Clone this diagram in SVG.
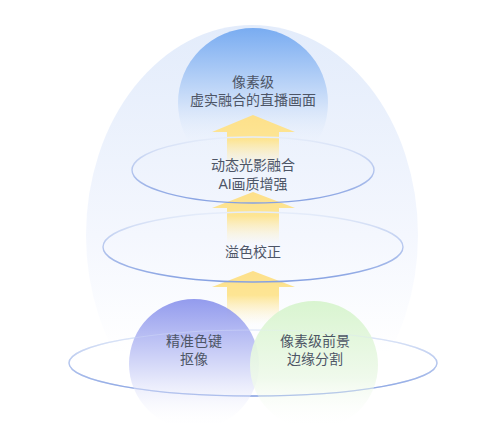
<svg xmlns="http://www.w3.org/2000/svg" width="500" height="424" viewBox="0 0 500 424">
<defs>
<linearGradient id="dome" x1="0" y1="0" x2="0" y2="1">
<stop offset="0" stop-color="#e3ecfb"/>
<stop offset="0.5" stop-color="#f4f7fe"/>
<stop offset="0.78" stop-color="#ffffff"/>
</linearGradient>
<linearGradient id="topc" x1="0" y1="0" x2="0" y2="1">
<stop offset="0" stop-color="#79acf1"/>
<stop offset="0.5" stop-color="#cfe0f9"/>
<stop offset="0.78" stop-color="#eaf1fc" stop-opacity="0"/>
</linearGradient>
<linearGradient id="ring" x1="0" y1="0" x2="0" y2="1">
<stop offset="0" stop-color="#e6edfa"/>
<stop offset="1" stop-color="#86a1e2"/>
</linearGradient>
<linearGradient id="arrow" x1="0" y1="0" x2="0" y2="1">
<stop offset="0" stop-color="#fde08a"/>
<stop offset="0.45" stop-color="#fde594"/>
<stop offset="1" stop-color="#fff5d6" stop-opacity="0"/>
</linearGradient>
<linearGradient id="purple" x1="0" y1="0" x2="0" y2="1">
<stop offset="0" stop-color="#8a93ec"/>
<stop offset="0.6" stop-color="#dfe2fa"/>
<stop offset="1" stop-color="#ffffff" stop-opacity="0"/>
</linearGradient>
<linearGradient id="green" x1="0" y1="0" x2="0" y2="1">
<stop offset="0" stop-color="#d6f4cc"/>
<stop offset="0.6" stop-color="#eef9ea"/>
<stop offset="1" stop-color="#ffffff" stop-opacity="0"/>
</linearGradient>
<style>
.ring{fill:none;stroke:url(#ring);stroke-width:1.4}
.arrow{fill:url(#arrow)}
.t{font-family:"Liberation Sans","Noto Sans CJK SC",sans-serif;font-size:14px;fill:#4d5566;text-anchor:middle}
</style>
</defs>
<rect width="500" height="424" fill="#ffffff"/>
<g id="background">
<ellipse cx="252" cy="235" rx="166" ry="210" fill="url(#dome)"/>
</g>
<g id="top-node">
<circle cx="253" cy="103" r="75" fill="url(#topc)"/>
<text class="t" x="253" y="87">像素级</text>
<text class="t" x="253" y="105">虚实融合的直播画面</text>
</g>
<g id="connectors">
<polygon class="arrow" points="253,115 295,132 279,132 279,170 227,170 227,132 212,132"/>
<polygon class="arrow" points="253,192 295,208 279,208 279,245 227,245 227,208 212,208"/>
<polygon class="arrow" points="253,271 295,287 279,287 279,325 227,325 227,287 212,287"/>
</g>
<g id="node-light">
<ellipse class="ring" cx="253" cy="170" rx="121" ry="33"/>
<text class="t" x="253" y="170">动态光影融合</text>
<text class="t" x="253" y="189">AI画质增强</text>
</g>
<g id="node-color">
<ellipse class="ring" cx="253" cy="247" rx="150" ry="35"/>
<text class="t" x="253" y="257">溢色校正</text>
</g>
<g id="node-base">
<ellipse class="ring" cx="253" cy="363" rx="184" ry="33"/>
</g>
<g id="node-key">
<circle cx="194" cy="364" r="65" fill="url(#purple)" opacity="0.92"/>
<text class="t" x="194" y="346">精准色键</text>
<text class="t" x="194" y="364">抠像</text>
</g>
<g id="node-seg">
<circle cx="314" cy="365" r="64" fill="url(#green)" opacity="0.92"/>
<text class="t" x="315" y="346">像素级前景</text>
<text class="t" x="315" y="364">边缘分割</text>
</g>
<ellipse cx="253" cy="363" rx="184" ry="33" fill="none" stroke="url(#ring)" stroke-width="1.2" opacity="0.35"/>
</svg>
